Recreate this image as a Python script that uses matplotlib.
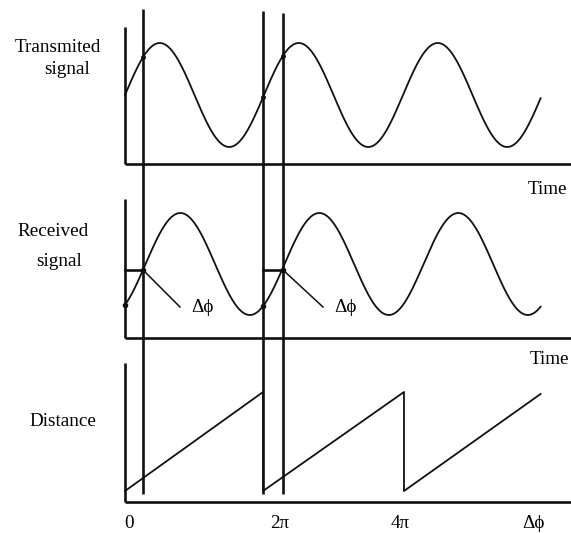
import numpy as np
import matplotlib
matplotlib.use("Agg")
import matplotlib.pyplot as plt

# ---- data (phase measured in cycles; 1 cycle = 2*pi) ----
n_cycles = 2.99
delta_phi = 0.148                       # phase lag of received signal (cycles)
guide_phases = [0.13, 0.993, 1.137]     # vertical reference lines
saw_phase = [0.0, 0.993, 0.993, 2.007, 2.007, 2.99]
saw_distance = [0.0, 1.0, 0.0, 1.0, 0.0, 0.98]
tick_positions = [0.03, 1.115, 1.98, 2.94]
tick_labels = ["0", "2π", "4π", "Δϕ"]

phase = np.linspace(0, n_cycles, 800)
transmitted = np.sin(2 * np.pi * phase)
received = np.sin(2 * np.pi * (phase - delta_phi))

# ---- layout (pixel rows, x in cycles) ----
W, H = 571, 533
X0, P = 125.0, 139.0
def cx(px):
    return (px - X0) / P

fig = plt.figure(figsize=(W / 100, H / 100), dpi=100)
ax = fig.add_axes([0, 0, 1, 1])
ax.set_xlim(cx(0), cx(W))
ax.set_ylim(H, 0)
ax.axis("off")

FONT = dict(family=["Liberation Serif", "DejaVu Serif"], fontsize=13.8, color="black")
LW_AX = 1.9
LW_SIG = 1.3
col = "#111111"

# panels: (center, amplitude, axis top, baseline)
tc, ta = 95, 52
rc, ra = 264, 51
d0, dspan = 491, 99

# axes lines
for top, base in [(27, 164), (199, 338), (363, 502)]:
    ax.plot([0, 0], [top, base], color=col, lw=LW_AX, solid_capstyle="butt")
    ax.plot([0, cx(W + 5)], [base, base], color=col, lw=LW_AX, solid_capstyle="butt")

# signals
ax.plot(phase, tc - ta * transmitted, color=col, lw=LW_SIG)
ax.plot(phase, rc - ra * received, color=col, lw=LW_SIG)
ax.plot(saw_phase, [d0 - dspan * d for d in saw_distance], color=col, lw=LW_SIG)

# vertical guide lines
for g, top in zip(guide_phases, [9, 11, 13]):
    ax.plot([g, g], [top, 494], color=col, lw=LW_AX, solid_capstyle="butt")

# intersection dots
for g in [0.0, guide_phases[1]]:
    ax.plot([g], [rc - ra * np.sin(2 * np.pi * (g - delta_phi))], "o", color=col, ms=3)
for g in [guide_phases[0], guide_phases[1], guide_phases[2]]:
    ax.plot([g], [tc - ta * np.sin(2 * np.pi * g)], "o", color=col, ms=2.5)
for g in [guide_phases[0], guide_phases[2]]:
    ax.plot([g], [270], "o", color=col, ms=3)

# delta-phi markers
for a, b, lx in [(0.0, guide_phases[0], cx(202)), (guide_phases[1], guide_phases[2], cx(345))]:
    ax.plot([a, b], [270, 270], color=col, lw=LW_AX)
    ax.plot([b, lx - cx(202) + cx(180)], [270, 307], color=col, lw=1.1)
    ax.text(lx, 307, "Δϕ", ha="center", va="center", **FONT)

# labels
ax.text(cx(58), 48, "Transmited", ha="center", va="center", **FONT)
ax.text(cx(67), 69, "signal", ha="center", va="center", **FONT)
ax.text(cx(53), 232, "Received", ha="center", va="center", **FONT)
ax.text(cx(59), 261, "signal", ha="center", va="center", **FONT)
ax.text(cx(63), 421, "Distance", ha="center", va="center", **FONT)
ax.text(cx(547), 190, "Time", ha="center", va="center", **FONT)
ax.text(cx(569), 359, "Time", ha="right", va="center", **FONT)
for t, lab in zip(tick_positions, tick_labels):
    ax.text(t, 523, lab, ha="center", va="center", **FONT)

fig.savefig("out.png", dpi=100)
